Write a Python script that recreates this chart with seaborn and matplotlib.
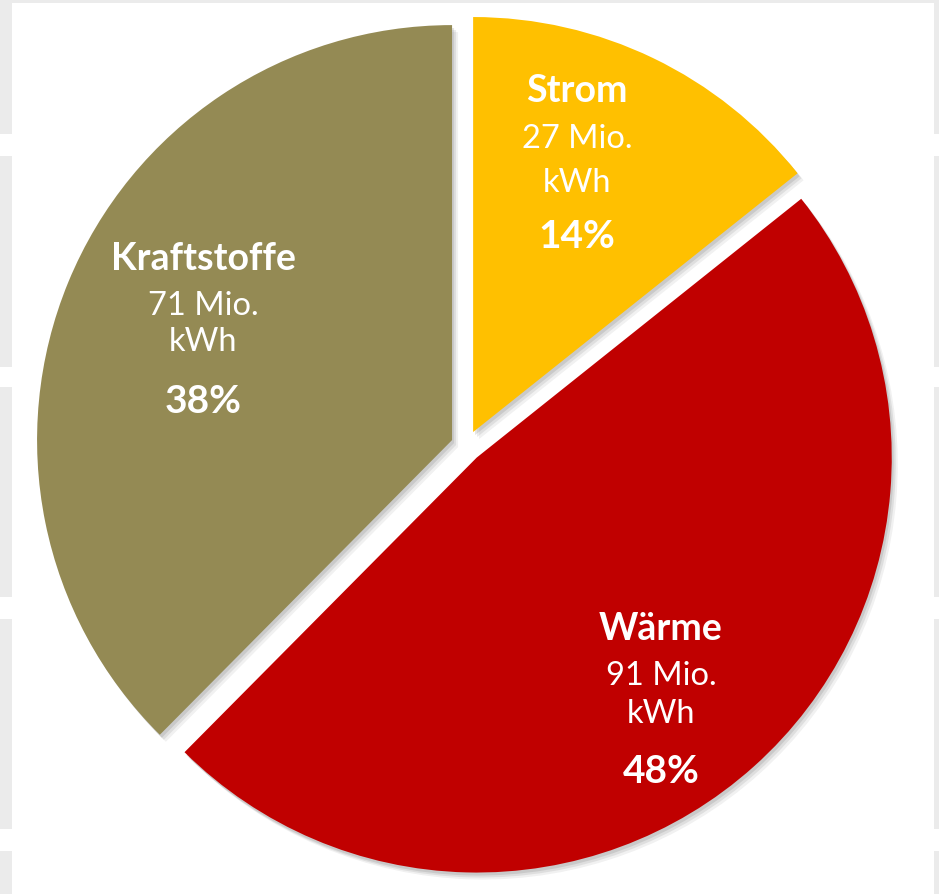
import matplotlib.pyplot as plt
import seaborn as sns
from matplotlib.patches import Rectangle

# Daten
kategorien = ['Strom', 'Wärme', 'Kraftstoffe']
werte_mio_kwh = [27, 91, 71]
anteile = ['14%', '48%', '38%']
farben = ['#FFC000', '#C00000', '#948A54']

sns.set_theme(style='white')
plt.rcParams['font.family'] = ['Lato', 'DejaVu Sans']

W, H = 939, 895
fig = plt.figure(figsize=(W / 100, H / 100), dpi=100)
ax = fig.add_axes([0, 0, 1, 1])

# Hintergrund: graue Streifen am Rand (wie im Screenshot)
grau = '#ebebeb'
ax.add_patch(Rectangle((0, H - 4), W, 4, color=grau, zorder=0, lw=0))
luecken = [(135, 157), (368, 388), (598, 620), (830, 852)]
kanten = [0] + [v for l in luecken for v in l] + [H]
for i in range(0, len(kanten), 2):
    y0, y1 = kanten[i], kanten[i + 1]
    ax.add_patch(Rectangle((0, H - y1), 12, y1 - y0, color=grau, zorder=0, lw=0))
    ax.add_patch(Rectangle((934, H - y1), W - 934, y1 - y0, color=grau, zorder=0, lw=0))

mitte = (466.4, H - 447)
radius = 415
# explode wirkt in Datenkoordinaten (Pixel), nicht relativ zum Radius
explode = [15.5] * 3

# weicher Schatten
for dx, dy, a in [(6, -7, 0.12), (4, -5, 0.18), (2, -3, 0.25)]:
    ax.pie(werte_mio_kwh, colors=['#8c8c8c'] * 3, startangle=90, counterclock=False,
           explode=explode, center=(mitte[0] + dx, mitte[1] + dy), radius=radius,
           wedgeprops=dict(linewidth=0, alpha=a))

ax.pie(werte_mio_kwh, colors=farben, startangle=90, counterclock=False,
       explode=explode, center=mitte, radius=radius,
       wedgeprops=dict(linewidth=0))

# Beschriftungen (x-Mitte, Grundlinien in Pixel von oben)
label_pos = {
    'Strom': (577, [102, 148, 192, 248]),
    'Wärme': (661, [640, 685, 723, 783]),
    'Kraftstoffe': (203, [270, 315, 351, 413]),
}
for kat, wert, pct in zip(kategorien, werte_mio_kwh, anteile):
    x, ys = label_pos[kat]
    zeilen = [(kat, 'bold', 27), (f'{wert} Mio.', 'normal', 23.5),
              ('kWh', 'normal', 23.5), (pct, 'bold', 28)]
    for (txt, fw, fs), y in zip(zeilen, ys):
        ax.text(x, H - y, txt, ha='center', va='baseline', color='white',
                fontsize=fs, fontweight=fw, zorder=5)

ax.set_xlim(0, W)
ax.set_ylim(0, H)
ax.set_aspect('auto')
ax.axis('off')
fig.savefig('out.png', dpi=100, facecolor='white')
